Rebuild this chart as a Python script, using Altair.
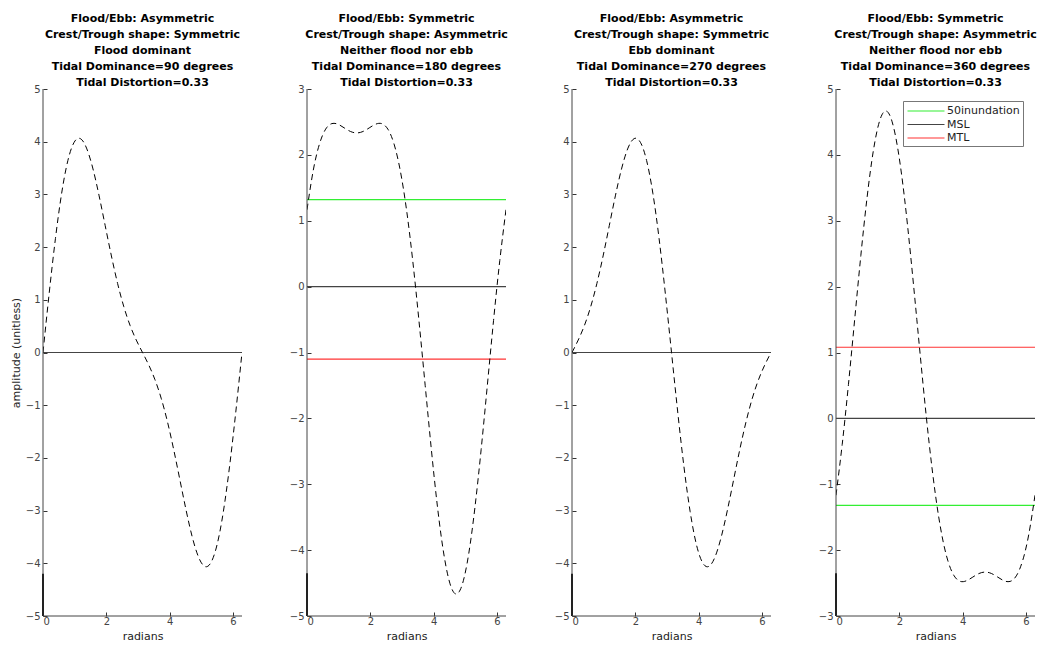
import altair as alt
import pandas as pd

# ---- data ----
radians = [0.0, 0.196, 0.393, 0.589, 0.785, 0.982, 1.178, 1.374, 1.571, 1.767,
           1.963, 2.160, 2.356, 2.553, 2.749, 2.945, 3.142, 3.338, 3.534, 3.731,
           3.927, 4.123, 4.320, 4.516, 4.712, 4.909, 5.105, 5.301, 5.498, 5.694,
           5.890, 6.087, 6.283]

flood_90 = [0.0, 1.129, 2.164, 3.022, 3.642, 3.988, 4.059, 3.879, 3.5, 2.986,
            2.409, 1.832, 1.308, 0.867, 0.514, 0.236, 0.0, -0.236, -0.514, -0.867,
            -1.308, -1.832, -2.409, -2.986, -3.5, -3.879, -4.059, -3.988, -3.642, -3.022,
            -2.164, -1.129, 0.0]

neither_180 = [1.167, 1.761, 2.164, 2.391, 2.475, 2.464, 2.409, 2.355, 2.333, 2.355,
               2.409, 2.464, 2.475, 2.391, 2.164, 1.761, 1.167, 0.395, -0.514, -1.498,
               -2.475, -3.357, -4.059, -4.511, -4.667, -4.511, -4.059, -3.357, -2.475, -1.498,
               -0.514, 0.395, 1.167]

ebb_270 = [0.0, 0.236, 0.514, 0.867, 1.308, 1.832, 2.409, 2.986, 3.5, 3.879,
           4.059, 3.988, 3.642, 3.022, 2.164, 1.129, 0.0, -1.129, -2.164, -3.022,
           -3.642, -3.988, -4.059, -3.879, -3.5, -2.986, -2.409, -1.832, -1.308, -0.867,
           -0.514, -0.236, 0.0]

neither_360 = [-1.167, -0.395, 0.514, 1.498, 2.475, 3.357, 4.059, 4.511, 4.667, 4.511,
               4.059, 3.357, 2.475, 1.498, 0.514, -0.395, -1.167, -1.761, -2.164, -2.391,
               -2.475, -2.464, -2.409, -2.355, -2.333, -2.355, -2.409, -2.464, -2.475, -2.391,
               -2.164, -1.761, -1.167]

series = [flood_90, neither_180, ebb_270, neither_360]

titles = [
    ["Flood/Ebb: Asymmetric", "Crest/Trough shape: Symmetric", "Flood dominant",
     "Tidal Dominance=90 degrees", "Tidal Distortion=0.33"],
    ["Flood/Ebb: Symmetric", "Crest/Trough shape: Asymmetric", "Neither flood nor ebb",
     "Tidal Dominance=180 degrees", "Tidal Distortion=0.33"],
    ["Flood/Ebb: Asymmetric", "Crest/Trough shape: Symmetric", "Ebb dominant",
     "Tidal Dominance=270 degrees", "Tidal Distortion=0.33"],
    ["Flood/Ebb: Symmetric", "Crest/Trough shape: Asymmetric", "Neither flood nor ebb",
     "Tidal Dominance=360 degrees", "Tidal Distortion=0.33"],
]

y_domains = [[-5, 5], [-5, 3], [-5, 5], [-3, 5]]
x_ticks = [0, 2, 4, 6]
x_max = 6.2832

level_names = ["50inundation", "MSL", "MTL"]
level_colors = ["#33ee33", "#444444", "#ff3333"]
panel_levels = [
    {"MSL": 0.0},
    {"50inundation": 1.32, "MSL": 0.0, "MTL": -1.1},
    {"MSL": 0.0},
    {"50inundation": -1.32, "MSL": 0.0, "MTL": 1.08},
]
stub_tops = [-4.2, -4.35, -4.2, -2.35]

W, H = 199, 527
FONT = "DejaVu Sans"
AX = "#333333"


def panel(i):
    lo, hi = y_domains[i]
    xs = alt.Scale(domain=[0, x_max], nice=False, zero=False)
    ys = alt.Scale(domain=[lo, hi], nice=False, zero=False)
    xaxis = alt.Axis(values=x_ticks, title="radians", offset=-4, domain=False,
                     tickSize=4, tickColor=AX, labelPadding=0, labelFontSize=10,
                     labelColor="#444", labelFont=FONT, titleFont=FONT, titleFontSize=11,
                     titleFontWeight="normal", titleColor="#222", titlePadding=4,
                     grid=False, format="d")
    yaxis = alt.Axis(values=list(range(lo, hi + 1)), offset=-4, domain=False,
                     tickSize=4, tickColor=AX, labelPadding=3, labelFontSize=10,
                     labelColor="#444", labelFont=FONT, grid=False, format="d",
                     title="amplitude (unitless)" if i == 0 else None,
                     titleFont=FONT, titleFontSize=11, titleFontWeight="normal",
                     titleColor="#222", titlePadding=4)

    curve_df = pd.DataFrame({"x": radians, "y": series[i]})
    lv = panel_levels[i]
    lev_df = pd.DataFrame({
        "name": list(lv.keys()),
        "value": list(lv.values()),
        "x0": [0.0] * len(lv),
        "x1": [x_max] * len(lv),
    })
    stub_df = pd.DataFrame({"x": [0.0], "y0": [lo], "y1": [stub_tops[i]]})

    legend = None
    if i == 3:
        legend = alt.Legend(title=None, orient="top-right", offset=12,
                            symbolType="M-3,0H3", symbolSize=152,
                            symbolStrokeWidth=1.2, symbolOffset=13,
                            labelOffset=14, labelFontSize=11, labelFont=FONT,
                            labelColor="#222", fillColor="white",
                            strokeColor="#777", padding=3, rowPadding=1.5)

    levels = alt.Chart(lev_df).mark_rule(strokeWidth=1.2).encode(
        x=alt.X("x0:Q", scale=xs, axis=xaxis),
        x2="x1:Q",
        y=alt.Y("value:Q", scale=ys, axis=yaxis),
        color=alt.Color("name:N", scale=alt.Scale(domain=level_names, range=level_colors),
                        legend=legend),
    )
    curve = alt.Chart(curve_df).mark_line(color="black", strokeDash=[6, 4],
                                          strokeWidth=1, interpolate="natural",
                                          clip=True).encode(
        x=alt.X("x:Q", scale=xs),
        y=alt.Y("y:Q", scale=ys),
    )
    stub = alt.Chart(stub_df).mark_rule(color="black", strokeWidth=2).encode(
        x=alt.X("x:Q", scale=xs),
        y=alt.Y("y0:Q", scale=ys),
        y2="y1:Q",
    )
    frame_df = pd.DataFrame({"k": [0]})
    left = alt.Chart(frame_df).mark_rule(color="#444", strokeWidth=1).encode(
        x=alt.value(0), y=alt.value(0), y2=alt.value(H))
    bottom = alt.Chart(frame_df).mark_rule(color="#444", strokeWidth=1).encode(
        x=alt.value(0), x2=alt.value(W), y=alt.value(H))

    return alt.layer(levels, curve, stub, left, bottom).properties(
        width=W, height=H,
        title=alt.TitleParams(text=titles[i], font=FONT, fontSize=11,
                              fontWeight="bold", color="black", anchor="middle",
                              lineHeight=16, offset=-4),
    )


chart = alt.hconcat(*[panel(i) for i in range(4)], spacing=46).resolve_scale(
    color="independent", x="independent", y="independent"
).properties(padding={"left": 2, "top": 5, "right": 0, "bottom": 0}).configure_view(stroke=None)

chart.save("out.html", embed_options={"renderer": "svg", "actions": False})
